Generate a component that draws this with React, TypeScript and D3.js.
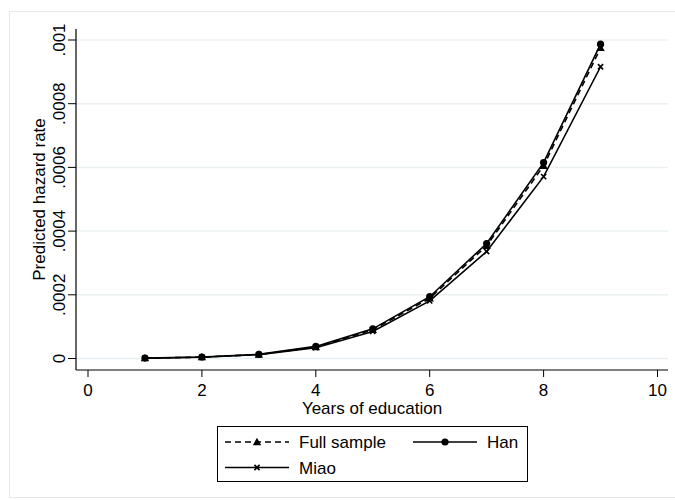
import React from 'react';
import * as d3 from 'd3';

// years of education (x) and predicted hazard rates per group
const years = [1, 2, 3, 4, 5, 6, 7, 8, 9];
const fullSample = [0.0000011, 0.0000043, 0.0000125, 0.000036, 0.00009, 0.000189, 0.000354, 0.000605, 0.000975];
const han = [0.0000012, 0.0000045, 0.000013, 0.000038, 0.000093, 0.000194, 0.000361, 0.000615, 0.000987];
const miao = [0.000001, 0.000004, 0.000012, 0.000034, 0.000085, 0.000181, 0.000336, 0.000571, 0.000916];

const xTicks = [0, 2, 4, 6, 8, 10];
const yTicks = [0, 0.0002, 0.0004, 0.0006, 0.0008, 0.001];
const yTickLabels = ['0', '.0002', '.0004', '.0006', '.0008', '.001'];

const W = 675;
const H = 500;
const font = 'Liberation Sans, Arial, sans-serif';
const fs = 17;

function Marker(props: { kind: string; x: number; y: number }) {
  const { kind, x, y } = props;
  if (kind === 'triangle') {
    const s = 4.2;
    return <path d={`M${x},${y - s} L${x + s},${y + s * 0.75} L${x - s},${y + s * 0.75} Z`} fill="#000" />;
  }
  if (kind === 'circle') {
    return <circle cx={x} cy={y} r={3.6} fill="#000" />;
  }
  const s = 2.6;
  return (
    <path d={`M${x - s},${y - s} L${x + s},${y + s} M${x + s},${y - s} L${x - s},${y + s}`}
      stroke="#000" strokeWidth={1.6} fill="none" />
  );
}

export default function App() {
  const x = d3.scaleLinear().domain([0, 10]).range([88, 657.5]);
  const y = d3.scaleLinear().domain([0, 0.001]).range([358.5, 40]);

  const plotLeft = 76;
  const plotRight = 668;
  const plotTop = 29;
  const axisY = 370;

  const line = d3.line<number>()
    .x((d, i) => x(years[i]))
    .y(d => y(d));

  const series = [
    { name: 'Full sample', values: fullSample, dash: '6,4', marker: 'triangle' },
    { name: 'Han', values: han, dash: null, marker: 'circle' },
    { name: 'Miao', values: miao, dash: null, marker: 'x' },
  ];

  // legend layout
  const legend = { x: 217, y: 426, w: 310, h: 55 };
  const legendItems = [
    { s: series[0], lx: 225, row: 0 },
    { s: series[1], lx: 413, row: 0 },
    { s: series[2], lx: 225, row: 1 },
  ];

  return (
    <svg width={W} height={H} style={{ position: 'absolute', left: 0, top: 0, background: '#fff' }}
      fontFamily={font}>
      <rect x={9.5} y={11.5} width={700} height={486} fill="#fff" stroke="#e6e9ea" />

      {/* gridlines */}
      {yTicks.map(t => (
        <line key={'g' + t} x1={plotLeft} x2={plotRight} y1={y(t)} y2={y(t)} stroke="#eaf0f2" strokeWidth={1.5} />
      ))}

      {/* axes */}
      <line x1={plotLeft} x2={plotLeft} y1={plotTop} y2={axisY} stroke="#000" strokeWidth={1.2} />
      <line x1={plotLeft} x2={plotRight} y1={axisY} y2={axisY} stroke="#000" strokeWidth={1.2} />

      {yTicks.map((t, i) => (
        <g key={'yt' + t}>
          <line x1={68} x2={plotLeft} y1={y(t)} y2={y(t)} stroke="#000" strokeWidth={1} />
          <text transform={`translate(65,${y(t)}) rotate(-90)`} textAnchor="middle" fontSize={fs}>
            {yTickLabels[i]}
          </text>
        </g>
      ))}
      {xTicks.map(t => (
        <g key={'xt' + t}>
          <line x1={x(t)} x2={x(t)} y1={axisY} y2={377} stroke="#000" strokeWidth={1} />
          <text x={x(t)} y={396} textAnchor="middle" fontSize={fs}>{t}</text>
        </g>
      ))}

      <text x={(plotLeft + plotRight) / 2} y={414} textAnchor="middle" fontSize={fs}>Years of education</text>
      <text transform={`translate(45,${(plotTop + axisY) / 2}) rotate(-90)`} textAnchor="middle" fontSize={fs}>
        Predicted hazard rate
      </text>

      {/* series */}
      {series.map(s => (
        <g key={s.name}>
          <path d={line(s.values) || ''} fill="none" stroke="#000" strokeWidth={1.6}
            strokeDasharray={s.dash || undefined} />
          {s.values.map((v, i) => (
            <Marker key={i} kind={s.marker} x={x(years[i])} y={y(v)} />
          ))}
        </g>
      ))}

      {/* legend */}
      <rect x={legend.x + 0.5} y={legend.y + 0.5} width={legend.w} height={legend.h} fill="#fff" stroke="#000" strokeWidth={1} />
      {legendItems.map(it => {
        const cy = 442 + it.row * 25.5;
        return (
          <g key={it.s.name}>
            <line x1={it.lx} x2={it.lx + 64} y1={cy} y2={cy} stroke="#000" strokeWidth={1.4}
              strokeDasharray={it.s.dash || undefined} />
            <Marker kind={it.s.marker} x={it.lx + 32} y={cy} />
            <text x={it.lx + 74} y={cy + 6} fontSize={fs}>{it.s.name}</text>
          </g>
        );
      })}
    </svg>
  );
}
